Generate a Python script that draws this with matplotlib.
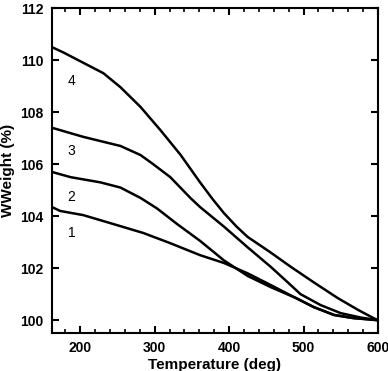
import matplotlib
matplotlib.use("Agg")
import matplotlib.pyplot as plt
from matplotlib.ticker import MultipleLocator

t1 = [162, 173, 204, 250, 285, 321, 361, 393, 425, 456, 483, 514, 541, 567, 600]
w1 = [104.35, 104.2, 104.04, 103.65, 103.35, 102.96, 102.5, 102.2, 101.8, 101.35, 100.95, 100.5, 100.2, 100.08, 100.0]

t2 = [162, 187, 227, 254, 281, 303, 330, 361, 393, 425, 456, 490, 514, 541, 567, 600]
w2 = [105.7, 105.5, 105.3, 105.1, 104.7, 104.3, 103.7, 103.05, 102.3, 101.7, 101.27, 100.85, 100.5, 100.2, 100.08, 100.0]

t3 = [162, 204, 254, 281, 298, 321, 348, 361, 393, 425, 456, 479, 496, 523, 550, 577, 600]
w3 = [107.4, 107.05, 106.7, 106.35, 106.0, 105.5, 104.7, 104.35, 103.6, 102.8, 102.05, 101.45, 101.0, 100.58, 100.27, 100.1, 100.0]

t4 = [162, 177, 204, 231, 254, 281, 308, 335, 361, 378, 393, 410, 425, 456, 483, 514, 546, 573, 594, 600]
w4 = [110.5, 110.3, 109.9, 109.5, 108.96, 108.2, 107.3, 106.35, 105.3, 104.65, 104.12, 103.6, 103.2, 102.6, 102.05, 101.45, 100.85, 100.4, 100.08, 100.0]

labels = ["1", "2", "3", "4"]
label_t = [188, 188, 188, 188]
label_w = [103.35, 104.73, 106.5, 109.2]

plt.rcParams['font.family'] = ['Liberation Sans', 'DejaVu Sans']
fig = plt.figure(figsize=(3.88, 3.71), dpi=100)
ax = fig.add_axes([0.134, 0.102, 0.840, 0.876])

for t, w in [(t1, w1), (t2, w2), (t3, w3), (t4, w4)]:
    ax.plot(t, w, color='black', lw=1.8, solid_joinstyle='round')

for lab, x, y in zip(labels, label_t, label_w):
    ax.text(x, y, lab, fontsize=10, ha='center', va='center')

ax.set_xlim(162, 600)
ax.set_ylim(99.5, 112)
ax.xaxis.set_major_locator(MultipleLocator(100))
ax.xaxis.set_minor_locator(MultipleLocator(20))
ax.yaxis.set_major_locator(MultipleLocator(2))
ax.tick_params(axis='both', which='major', direction='in', length=5, width=1.5,
               top=True, right=True, labelsize=10, pad=6)
ax.tick_params(axis='x', which='minor', direction='in', length=3, width=1.2, top=True)
for lab in ax.get_xticklabels() + ax.get_yticklabels():
    lab.set_fontweight('bold')
for s in ax.spines.values():
    s.set_linewidth(1.5)

ax.set_xlabel('Temperature (deg)', fontsize=11, fontweight='bold', labelpad=2)
ax.set_ylabel('WWeight (%)', fontsize=11, fontweight='bold', labelpad=4)

fig.savefig('out.png', dpi=100)
